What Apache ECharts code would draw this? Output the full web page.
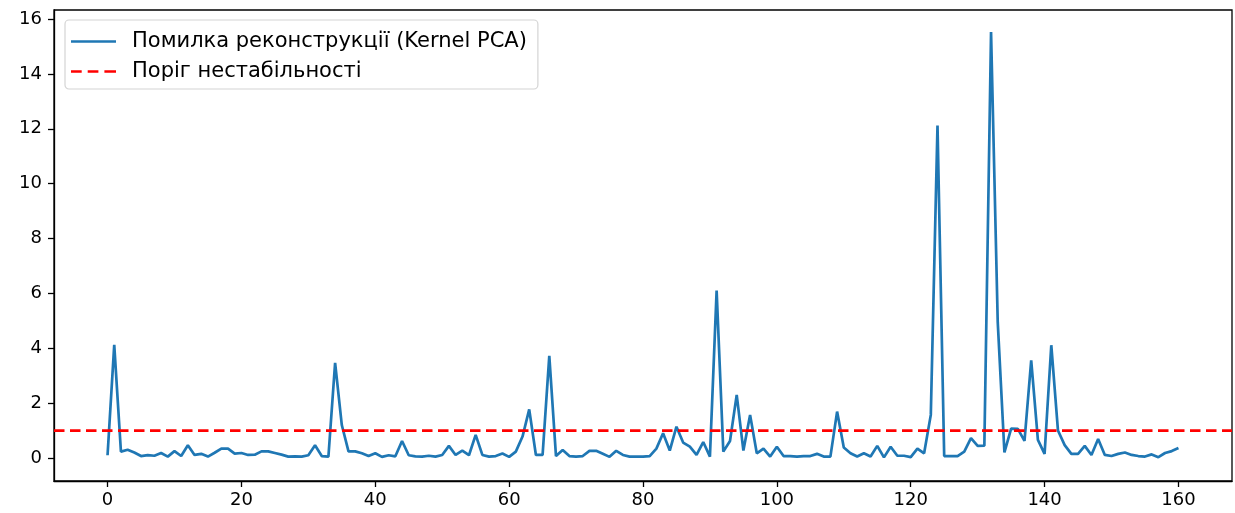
<!DOCTYPE html>
<html>
<head>
<meta charset="utf-8">
<script src="https://cdn.jsdelivr.net/npm/echarts@6/dist/echarts.min.js"></script>
<style>
  html, body { margin: 0; padding: 0; background: #fff; }
  #chart { width: 1235px; height: 513px; }
</style>
</head>
<body>
<div id="chart"></div>
<script>
// Reconstruction error per sample index (Kernel PCA)
const errorValues = [
  0.10, 4.12, 0.23, 0.30, 0.20, 0.07, 0.10, 0.08, 0.18, 0.05,
  0.25, 0.07, 0.46, 0.11, 0.15, 0.05, 0.19, 0.34, 0.34, 0.16,
  0.18, 0.11, 0.12, 0.24, 0.24, 0.18, 0.12, 0.05, 0.06, 0.05,
  0.10, 0.46, 0.07, 0.05, 3.47, 1.20, 0.24, 0.24, 0.17, 0.07,
  0.17, 0.04, 0.10, 0.06, 0.62, 0.10, 0.06, 0.05, 0.08, 0.05,
  0.11, 0.44, 0.11, 0.27, 0.10, 0.84, 0.11, 0.05, 0.07, 0.16,
  0.04, 0.23, 0.78, 1.77, 0.11, 0.11, 3.72, 0.07, 0.29, 0.07,
  0.05, 0.07, 0.26, 0.26, 0.15, 0.04, 0.26, 0.11, 0.05, 0.05,
  0.05, 0.07, 0.34, 0.90, 0.27, 1.14, 0.56, 0.41, 0.11, 0.58,
  0.05, 6.10, 0.23, 0.62, 2.30, 0.27, 1.57, 0.17, 0.34, 0.05,
  0.41, 0.07, 0.07, 0.05, 0.07, 0.07, 0.15, 0.05, 0.05, 1.69,
  0.38, 0.17, 0.05, 0.17, 0.05, 0.44, 0.02, 0.41, 0.08, 0.08,
  0.03, 0.34, 0.17, 1.57, 12.12, 0.07, 0.07, 0.07, 0.23, 0.72,
  0.44, 0.45, 15.53, 4.95, 0.20, 1.07, 1.06, 0.62, 3.56, 0.66,
  0.15, 4.11, 1.00, 0.47, 0.15, 0.15, 0.44, 0.11, 0.69, 0.11,
  0.07, 0.15, 0.20, 0.11, 0.07, 0.05, 0.13, 0.03, 0.18, 0.25,
  0.36
];
const threshold = 1.0;
const xTicks = [0, 20, 40, 60, 80, 100, 120, 140, 160];
const yTicks = [0, 2, 4, 6, 8, 10, 12, 14, 16];
const xRange = [-8, 168];
const yRange = [-0.84, 16.33];
const seriesNames = ['Помилка реконструкції (Kernel PCA)', 'Поріг нестабільності'];

const font = 'DejaVu Sans';
const errorPoints = errorValues.map((v, i) => [i, v]);
const thresholdPoints = [[xRange[0], threshold], [xRange[1], threshold]];

// Legend handles: a solid stroke and a three-dash stroke
const solidIcon = 'path://M0,0H45V2.7H0Z';
const dashedIcon = 'path://M0,0H10.7V2.7H0Z M16.7,0H27.4V2.7H16.7Z M33.4,0H45V2.7H33.4Z';

const chart = echarts.init(document.getElementById('chart'), null, { renderer: 'canvas' });
chart.setOption({
  animation: false,
  backgroundColor: '#ffffff',
  textStyle: { fontFamily: font },
  grid: {
    left: 54, right: 3, top: 10, bottom: 32,
    show: true, borderColor: '#000', borderWidth: 1.3, backgroundColor: 'transparent'
  },
  legend: {
    left: 65, top: 20,
    orient: 'vertical',
    padding: [11, 11, 7, 6],
    itemGap: 9,
    itemWidth: 45, itemHeight: 21,
    backgroundColor: 'rgba(255,255,255,0.8)',
    borderColor: '#d4d4d4', borderWidth: 1.2, borderRadius: 4,
    textStyle: { fontFamily: font, fontSize: 21, lineHeight: 21, color: '#000', padding: [0, 0, 0, 11] },
    data: [
      { name: seriesNames[0], icon: solidIcon },
      { name: seriesNames[1], icon: dashedIcon }
    ]
  },
  xAxis: {
    type: 'value',
    min: xRange[0], max: xRange[1],
    splitLine: { show: false },
    axisLine: { show: true, onZero: false, lineStyle: { color: '#000', width: 1.3 } },
    axisTick: { show: true, length: 6, customValues: xTicks, lineStyle: { color: '#000', width: 1.3 } },
    axisLabel: { customValues: xTicks, margin: 10, fontSize: 18, color: '#000', fontFamily: font }
  },
  yAxis: {
    type: 'value',
    min: yRange[0], max: yRange[1],
    splitLine: { show: false },
    axisLine: { show: true, onZero: false, lineStyle: { color: '#000', width: 1.3 } },
    axisTick: { show: true, length: 6, customValues: yTicks, lineStyle: { color: '#000', width: 1.3 } },
    axisLabel: { customValues: yTicks, margin: 12, fontSize: 18, color: '#000', fontFamily: font }
  },
  series: [
    {
      name: seriesNames[0],
      type: 'line',
      data: errorPoints,
      showSymbol: false,
      symbol: 'none',
      color: '#1f77b4',
      lineStyle: { color: '#1f77b4', width: 2.7 },
      z: 3
    },
    {
      name: seriesNames[1],
      type: 'line',
      data: thresholdPoints,
      showSymbol: false,
      symbol: 'none',
      color: '#ff0000',
      lineStyle: { color: '#ff0000', width: 2.7, type: [10.5, 5.5] },
      z: 4
    }
  ]
});
</script>
</body>
</html>
